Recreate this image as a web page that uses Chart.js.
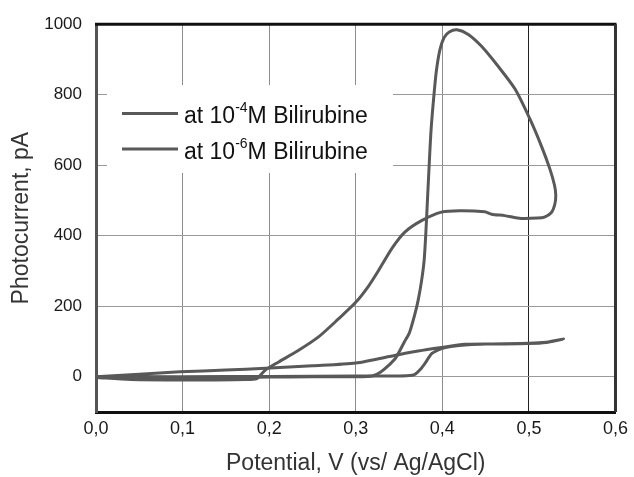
<!DOCTYPE html>
<html>
<head>
<meta charset="utf-8">
<script src="https://cdn.jsdelivr.net/npm/chart.js@4.4.1/dist/chart.umd.min.js"></script>
<style>
    html, body { margin: 0; padding: 0; background: #fff; }
    canvas { display: block; }
</style>
</head>
<body>
<canvas id="photocurrentChart" width="634" height="477"></canvas>
<script>
'use strict';

// Axis ticks
const xTicks = [0, 0.1, 0.2, 0.3, 0.4, 0.5, 0.6];
const yTicks = [0, 200, 400, 600, 800, 1000];

// Legend parts (text is drawn with a raised exponent)
const seriesLabels = ['at 10⁻⁴M Bilirubine', 'at 10⁻⁶M Bilirubine'];
const legendBase = 'at 10';
const legendExponents = ['-4', '-6'];
const legendSuffix = 'M Bilirubine';

// 10^-4 M: forward scan, then return through the big loop
const highPotential = [
    0.000, 0.040, 0.090, 0.135, 0.173, 0.186, 0.190, 0.196, 0.211, 0.234,
    0.257, 0.280, 0.300, 0.315, 0.326, 0.342, 0.357, 0.376, 0.399, 0.420,
    0.449, 0.457, 0.472, 0.491, 0.510, 0.518, 0.526, 0.530, 0.531, 0.5295,
    0.524, 0.514, 0.501, 0.484, 0.464, 0.445, 0.430, 0.417, 0.408, 0.402,
    0.397, 0.393, 0.390, 0.387, 0.385, 0.383, 0.381, 0.379, 0.376, 0.372,
    0.368, 0.362, 0.356, 0.346, 0.337, 0.328, 0.319, 0.300, 0.250, 0.200,
    0.150, 0.100, 0.050, 0.000
];
const highCurrent = [
    -2, -8, -9, -9, -8, -5, 5, 20, 42, 75,
    113, 164, 211, 258, 300, 365, 411, 443, 467, 471,
    468, 461, 457, 449, 450, 453, 466, 490, 516, 544,
    591, 657, 732, 816, 882, 938, 971, 984, 978, 962,
    925, 865, 790, 700, 610, 510, 410, 330, 272, 216,
    175, 125, 98, 53, 30, 12, 2, 0, 0, -1,
    -3, -2, -1, 0
];

// 10^-6 M: forward scan, then return
const lowPotential = [
    0.000, 0.100, 0.200, 0.300, 0.350, 0.365, 0.369, 0.375, 0.380, 0.388,
    0.399, 0.410, 0.430, 0.450, 0.500, 0.520, 0.540,
    0.520, 0.499, 0.460, 0.426, 0.399, 0.372, 0.346, 0.300, 0.250, 0.196,
    0.150, 0.097, 0.050, 0.000
];
const lowCurrent = [
    0, 0, 1, 2, 2, 4, 8, 22, 38, 66,
    80, 86, 91, 93, 95, 98, 107,
    97, 94, 93, 92, 83, 73, 61, 39, 31, 24,
    19, 14, 7, 0
];

const lineColor = '#595959';
const fontFamily = '"Liberation Sans", Arial, sans-serif';

function toPoints(xs, ys) {
    return xs.map(function (x, i) {
        return {x: x, y: ys[i]};
    });
}

// White legend box, legend entries and the top/right frame
const frameAndLegend = {
    id: 'frameAndLegend',
    beforeDatasetsDraw(chart) {
        const ctx = chart.ctx;
        const area = chart.chartArea;

        ctx.save();
        ctx.fillStyle = '#fff';
        ctx.fillRect(107, 85, 286, 88);

        const rows = [113.5, 149];
        rows.forEach(function (lineY, i) {
            ctx.strokeStyle = lineColor;
            ctx.lineWidth = 3;
            ctx.beginPath();
            ctx.moveTo(122, lineY);
            ctx.lineTo(178, lineY);
            ctx.stroke();

            const baseY = lineY + 9.5;
            let x = 184;
            ctx.fillStyle = '#111';
            ctx.textBaseline = 'alphabetic';
            ctx.textAlign = 'left';
            ctx.font = '23px ' + fontFamily;
            ctx.fillText(legendBase, x, baseY);
            x += ctx.measureText(legendBase).width;
            ctx.font = '14px ' + fontFamily;
            ctx.fillText(legendExponents[i], x, baseY - 11);
            x += ctx.measureText(legendExponents[i]).width;
            ctx.font = '23px ' + fontFamily;
            ctx.fillText(legendSuffix, x, baseY);
        });

        // Top and right frame lines
        ctx.lineWidth = 3;
        ctx.strokeStyle = '#111';
        ctx.beginPath();
        ctx.moveTo(area.left - 1, area.top);
        ctx.lineTo(area.right + 1, area.top);
        ctx.stroke();
        ctx.strokeStyle = '#333';
        ctx.beginPath();
        ctx.moveTo(area.right, area.top);
        ctx.lineTo(area.right, area.bottom);
        ctx.stroke();
        ctx.restore();
    }
};

const config = {
    type: 'scatter',
    data: {
        datasets: [{
            label: seriesLabels[0],
            data: toPoints(highPotential, highCurrent),
            showLine: true,
            borderColor: lineColor,
            borderWidth: 3,
            pointRadius: 0,
            tension: 0.25,
            fill: false
        }, {
            label: seriesLabels[1],
            data: toPoints(lowPotential, lowCurrent),
            showLine: true,
            borderColor: lineColor,
            borderWidth: 3,
            pointRadius: 0,
            tension: 0.25,
            fill: false
        }]
    },
    options: {
        responsive: false,
        animation: false,
        devicePixelRatio: 1,
        layout: {
            padding: {top: 21, right: 16, left: 0, bottom: 0}
        },
        scales: {
            x: {
                type: 'linear',
                min: 0,
                max: 0.6,
                afterBuildTicks: function (scale) {
                    scale.ticks = xTicks.map(function (v) { return {value: v}; });
                },
                afterFit: function (scale) {
                    scale.height = 65;
                },
                ticks: {
                    padding: 6,
                    color: '#1a1a1a',
                    font: {family: fontFamily, size: 18},
                    callback: function (value) {
                        return value.toFixed(1).replace('.', ',');
                    }
                },
                grid: {
                    drawTicks: false,
                    lineWidth: 1,
                    color: function (ctx) {
                        return ctx.tick && Math.abs(ctx.tick.value - 0.5) < 1e-6 ? '#222' : '#8c8c8c';
                    }
                },
                border: {color: '#111', width: 3},
                title: {
                    display: true,
                    text: 'Potential, V (vs/ Ag/AgCl)',
                    color: '#333',
                    font: {family: fontFamily, size: 23},
                    padding: {top: 0, bottom: 0}
                }
            },
            y: {
                type: 'linear',
                min: -100,
                max: 1000,
                afterBuildTicks: function (scale) {
                    scale.ticks = yTicks.map(function (v) { return {value: v}; });
                },
                afterFit: function (scale) {
                    scale.width = 96;
                },
                ticks: {
                    padding: 14,
                    color: '#1a1a1a',
                    font: {family: fontFamily, size: 17},
                    callback: function (value) {
                        return String(value);
                    }
                },
                grid: {
                    drawTicks: false,
                    lineWidth: 1,
                    color: '#9a9a9a'
                },
                border: {color: '#555', width: 3},
                title: {
                    display: true,
                    text: 'Photocurrent, pA',
                    color: '#333',
                    font: {family: fontFamily, size: 23},
                    padding: {top: 8, bottom: 0}
                }
            }
        },
        plugins: {
            legend: {display: false},
            tooltip: {enabled: false}
        }
    },
    plugins: [frameAndLegend]
};

new Chart(document.getElementById('photocurrentChart'), config);
</script>
</body>
</html>
